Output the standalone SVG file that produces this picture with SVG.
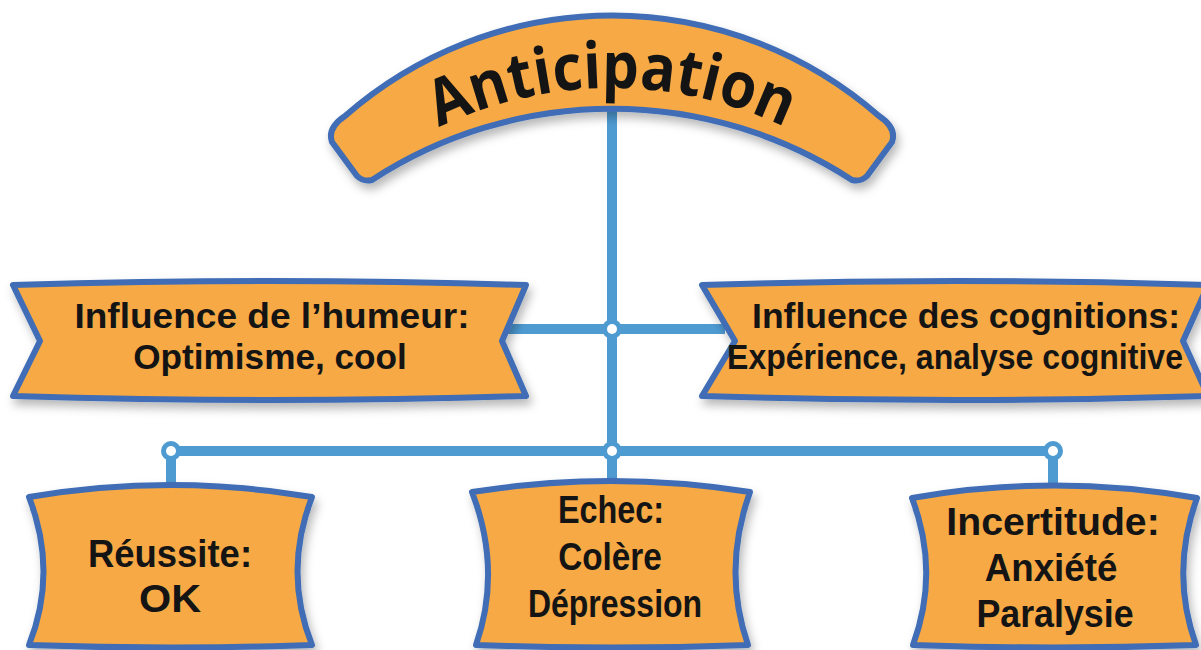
<svg xmlns="http://www.w3.org/2000/svg" xmlns:xlink="http://www.w3.org/1999/xlink" width="1201" height="650" viewBox="0 0 1201 650">
<defs>
<filter id="sh" x="-10%" y="-10%" width="125%" height="135%">
<feDropShadow dx="3" dy="6" stdDeviation="5" flood-color="#000" flood-opacity="0.28"/>
</filter>
<path id="arcText" d="M 212,488 A 400 400 0 0 1 1012,488"/>
<style>
.shape{fill:#F6A944;stroke:#3F6DB5;stroke-width:6;stroke-linejoin:round;filter:url(#sh)}
.conn{stroke:#4E9BD2;stroke-width:10;fill:none;stroke-linecap:butt}
.jb{fill:#4E9BD2}
.jw{fill:#fff}
.t{font-family:"Liberation Sans",Arial,sans-serif;font-weight:700;fill:#141414;text-anchor:middle;font-size:36px}
.b{font-size:38px}
.title{font-family:"Open Sans","Noto Sans","Liberation Sans",sans-serif;font-weight:700;fill:#141414;font-size:64px}
</style>
</defs>
<rect width="1201" height="650" fill="#fff"/>
<g id="connectors">
<line class="conn" x1="612" y1="100" x2="612" y2="451"/>
<line class="conn" x1="500" y1="329" x2="725" y2="329"/>
<line class="conn" x1="171" y1="451" x2="1053" y2="451"/>
<line class="conn" x1="171" y1="451" x2="171" y2="492"/>
<line class="conn" x1="612" y1="451" x2="612" y2="490"/>
<line class="conn" x1="1053" y1="451" x2="1053" y2="492"/>
<circle class="jb" cx="612" cy="329" r="10"/><circle class="jw" cx="612" cy="329" r="5"/>
<circle class="jb" cx="612" cy="451" r="10"/><circle class="jw" cx="612" cy="451" r="5"/>
<circle class="jb" cx="171" cy="451" r="10"/><circle class="jw" cx="171" cy="451" r="5"/>
<circle class="jb" cx="1053" cy="451" r="10"/><circle class="jw" cx="1053" cy="451" r="5"/>
</g>
<g id="anticipation">
<path class="shape" d="M 345,116 A 405 405 0 0 1 879,116 Q 897,128 892,142 L 867,176 Q 861,182 852,180 A 440 440 0 0 0 372,180 Q 363,182 357,176 L 332,142 Q 327,128 345,116 Z"/>
<text class="title"><textPath xlink:href="#arcText" href="#arcText" startOffset="50%" text-anchor="middle" textLength="358" lengthAdjust="spacingAndGlyphs">Anticipation</textPath></text>
</g>
<g id="humeur">
<path class="shape" d="M 13,285 Q 269,277 526,285 L 502,341 L 526,396 Q 269,404 13,396 L 40,341 Z"/>
<text class="t" transform="translate(272 327.5) scale(0.8 1)" textLength="494" lengthAdjust="spacingAndGlyphs">Influence de l’humeur:</text>
<text class="t" transform="translate(270 368.5) scale(0.8 1)" textLength="342" lengthAdjust="spacingAndGlyphs">Optimisme, cool</text>
</g>
<g id="cognitions">
<path class="shape" d="M 702,285 Q 955,277 1208,285 L 1183,341 L 1208,396 Q 955,404 702,396 L 735,341 Z"/>
<text class="t" transform="translate(966 327.5) scale(0.8 1)" textLength="535" lengthAdjust="spacingAndGlyphs">Influence des cognitions:</text>
<text class="t" transform="translate(955 368.5) scale(0.76 1)" textLength="600" lengthAdjust="spacingAndGlyphs">Expérience, analyse cognitive</text>
</g>
<g id="reussite">
<path class="shape" d="M 29,497 Q 170,473 312,497 Q 283,572 312,645 Q 170,650 29,645 Q 58,572 29,497 Z"/>
<text class="t b" transform="translate(170 567) scale(0.85 1)" textLength="193" lengthAdjust="spacingAndGlyphs">Réussite:</text>
<text class="t b" transform="translate(170 612) scale(0.85 1)" textLength="73" lengthAdjust="spacingAndGlyphs">OK</text>
</g>
<g id="echec">
<path class="shape" d="M 472,492 Q 611,470 750,492 Q 722,570 748,645 Q 611,650 476,645 Q 502,570 472,492 Z"/>
<text class="t b" transform="translate(611 523) scale(0.85 1)" textLength="125" lengthAdjust="spacingAndGlyphs">Echec:</text>
<text class="t b" transform="translate(610 570) scale(0.85 1)" textLength="122" lengthAdjust="spacingAndGlyphs">Colère</text>
<text class="t b" transform="translate(615 617) scale(0.85 1)" textLength="205" lengthAdjust="spacingAndGlyphs">Dépression</text>
</g>
<g id="incertitude">
<path class="shape" d="M 912,498 Q 1054,473 1197,498 Q 1170,572 1196,645 Q 1054,650 913,645 Q 940,572 912,498 Z"/>
<text class="t b" transform="translate(1053 535) scale(0.85 1)" textLength="251" lengthAdjust="spacingAndGlyphs">Incertitude:</text>
<text class="t b" transform="translate(1051 581) scale(0.85 1)" textLength="156" lengthAdjust="spacingAndGlyphs">Anxiété</text>
<text class="t b" transform="translate(1055 627) scale(0.85 1)" textLength="185" lengthAdjust="spacingAndGlyphs">Paralysie</text>
</g>
</svg>
